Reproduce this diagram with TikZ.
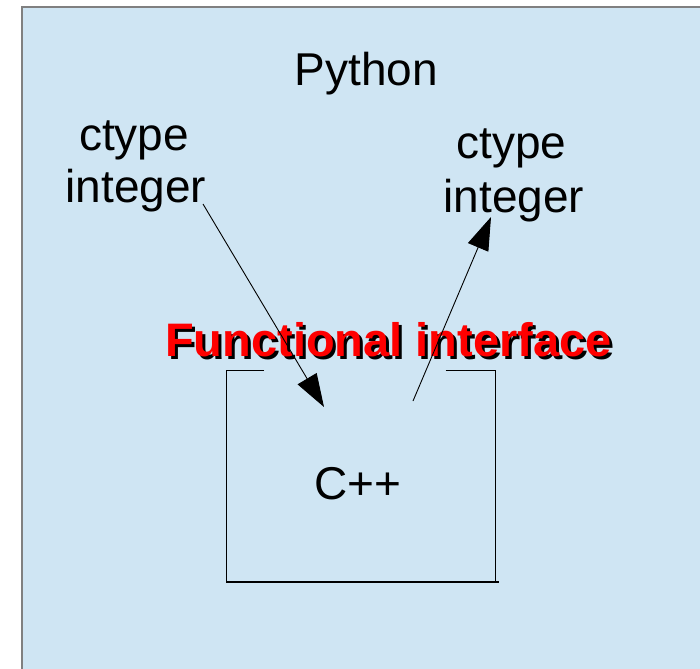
\documentclass[tikz,border=0pt]{standalone}
\usepackage{fontspec}
\setmainfont{Liberation Sans}
\usetikzlibrary{arrows.meta}
\definecolor{panelfill}{RGB}{207,229,243}
\definecolor{panelrim}{RGB}{128,128,128}
\definecolor{ifred}{RGB}{255,0,0}
% bold heading with a black drop shadow set under it
\newcommand{\shadowtext}[1]{\rlap{\hspace{3pt}\raisebox{-3pt}{\color{black}#1}}{\color{ifred}#1}}
\tikzset{
  bigtext/.style={inner sep=0pt, font=\fontsize{46}{53}\selectfont, align=center},
  boldtext/.style={inner sep=0pt, font=\fontsize{47}{53}\selectfont\bfseries},
  edge/.style={line width=1.1pt, black},
  flow/.style={line width=0.9pt, black, -{Triangle[length=33pt,width=22pt]}}
}
\begin{document}
\begin{tikzpicture}[x=1pt,y=-1pt]
  \useasboundingbox (0,0) rectangle (700,668);
  % background panel (its right and bottom edges run off the page)
  \fill[panelfill] (22,7) rectangle (712,680);
  \draw[panelrim, line width=1.6pt] (712,7) -- (22,7) -- (22,680);

  % labels
  \node[bigtext, anchor=base] (python) at (366.5,85.7) {Python};
  \node[bigtext, anchor=base] (ctL1) at (134,150.7) {ctype};
  \node[bigtext, anchor=base] (ctL2) at (136,203) {integer};
  \node[bigtext, anchor=base] (ctR1) at (511.5,159) {ctype};
  \node[bigtext, anchor=base] (ctR2) at (514,212) {integer};
  \node[bigtext, anchor=base] (cpp) at (358,499) {C++};

  % shadowed heading
  \node[boldtext, anchor=base west] (iface) at (165,356) {\shadowtext{Functional interface}};

  % open-topped box around the C++ part
  \coordinate (tl) at (226.7,370.7);
  \coordinate (tr) at (495.7,370.7);
  \coordinate (bl) at (226.7,582);
  \coordinate (br) at (495.7,582);
  \coordinate (gapL) at (264,370.7);
  \coordinate (gapR) at (445.7,370.7);
  \coordinate (brx) at (499,582);
  \draw[edge] (gapL) -- (tl) -- (bl) -- (brx);
  \draw[edge] (gapR) -- (tr) -- (br);

  % calls across the interface
  \coordinate (lstart) at (203,204);
  \coordinate (ltip) at (324,407);
  \coordinate (rstart) at (413,401);
  \coordinate (rtip) at (491,217);
  \draw[flow] (lstart) -- (ltip);
  \draw[flow] (rstart) -- (rtip);
\end{tikzpicture}
\end{document}
